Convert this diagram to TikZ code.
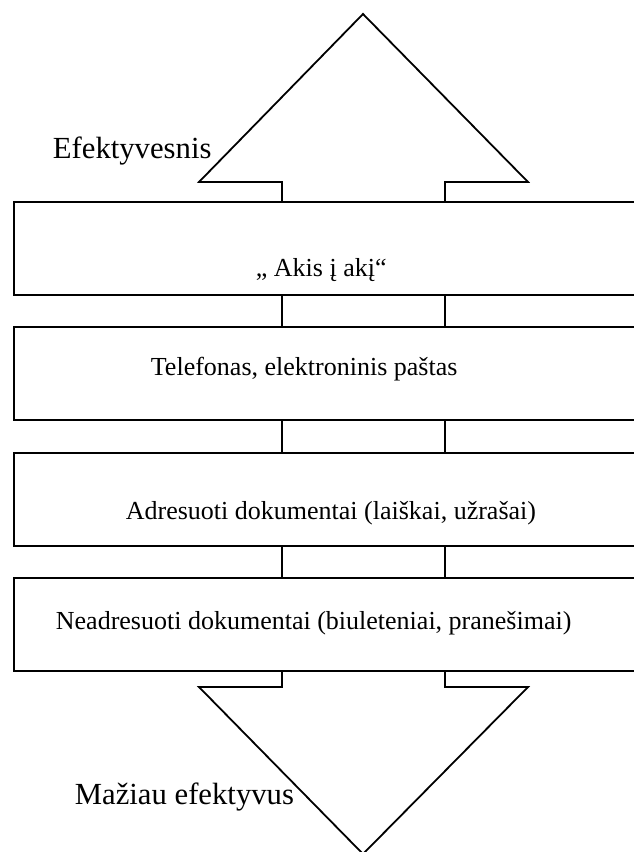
\documentclass[tikz,border=0pt]{standalone}
\usepackage{fontspec}
\setmainfont{Liberation Serif}
\begin{document}
\begin{tikzpicture}[x=1pt,y=-1pt, line width=1.8pt, line join=miter,
  box/.style={draw, rectangle, minimum width=640pt, minimum height=93pt, anchor=north west, inner sep=0pt},
  boxtext/.style={font=\fontsize{26}{30}\selectfont, inner sep=0pt, anchor=base west},
  side/.style={font=\fontsize{30.7}{36}\selectfont, inner sep=0pt, anchor=base west}]
\useasboundingbox (0,0) rectangle (634,852);
\clip (0,0) rectangle (634,852);
\coordinate (s1) at (282,0);
\coordinate (s2) at (445,0);
% boxes
\node[box] (r1) at (13,201) {};
\node[box] (r2) at (13,326) {};
\node[box] (r3) at (13,452) {};
\node[box] (r4) at (13,577) {};
% texts
\node[boxtext] (t1) at (255,276) {„ Akis į akį“};
\node[boxtext] (t2) at (150,375) {Telefonas, elektroninis paštas};
\node[boxtext] (t3) at (125,519) {Adresuoti dokumentai (laiškai, užrašai)};
\node[boxtext] (t4) at (55,629) {Neadresuoti dokumentai (biuleteniai, pranešimai)};
\node[side] (l1) at (52,158) {Efektyvesnis};
\node[side] (l2) at (74,804) {Mažiau efektyvus};
% top arrow
\coordinate (tt) at (363,14);
\draw (r1.north -| s1) -- (282,182) -- (199,182) -- (tt) -- (528,182) -- (445,182) -- (r1.north -| s2);
% connectors
\foreach \a/\b in {r1/r2,r2/r3,r3/r4}{
  \draw (\a.south -| s1) -- (\b.north -| s1);
  \draw (\a.south -| s2) -- (\b.north -| s2);
}
% bottom arrow
\coordinate (bt) at (363,854);
\draw (r4.south -| s1) -- (282,687) -- (199,687) -- (bt) -- (528,687) -- (445,687) -- (r4.south -| s2);
\end{tikzpicture}
\end{document}
